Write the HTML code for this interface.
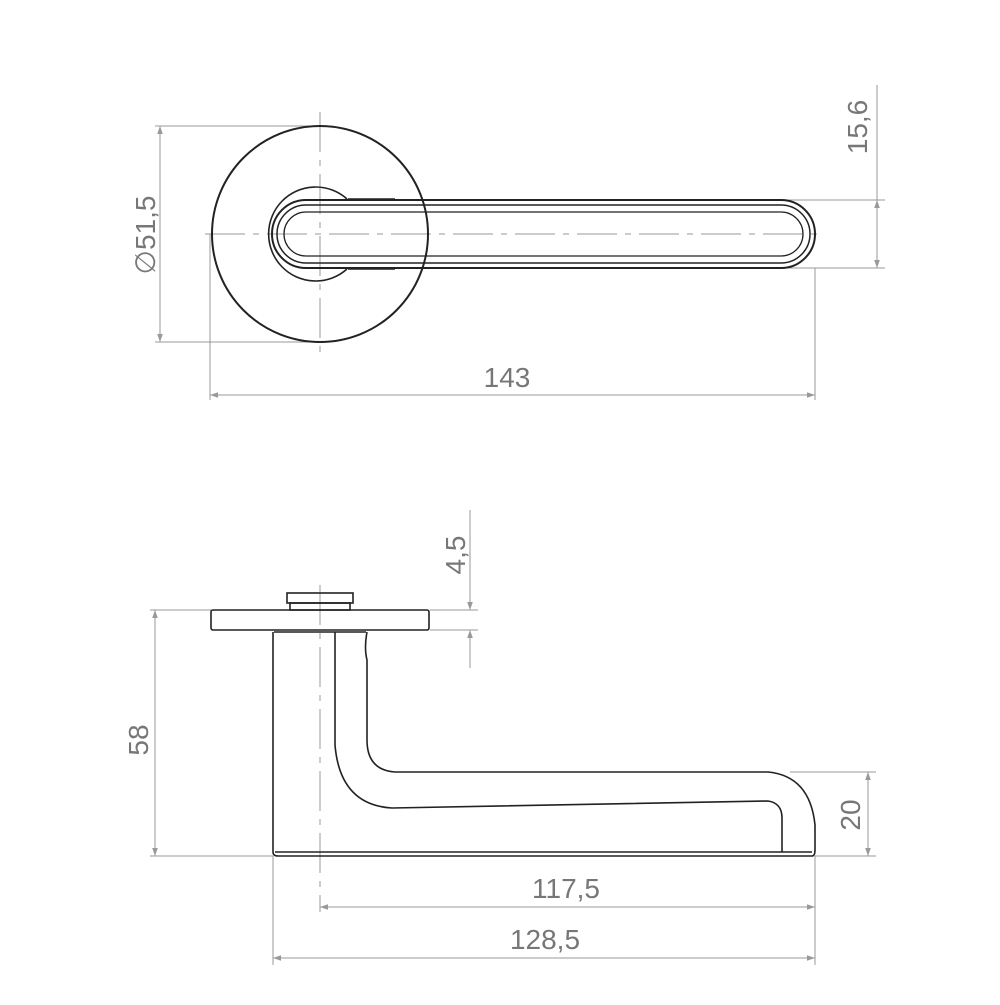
<!DOCTYPE html>
<html><head><style>html,body{margin:0;padding:0;background:#fff}</style></head>
<body>
<svg width="1000" height="1000" xmlns="http://www.w3.org/2000/svg" font-family="Liberation Sans, sans-serif">
<defs>
<marker id="a" viewBox="0 0 10 10" refX="10" refY="5" markerWidth="14" markerHeight="8" markerUnits="userSpaceOnUse" orient="auto-start-reverse"><path d="M0,1.5 L10,5 L0,8.5 Z" fill="#999"/></marker>
</defs>
<g stroke="#999" stroke-width="1" fill="none">
<line x1="155" y1="126" x2="320" y2="126"/><line x1="155" y1="342" x2="320" y2="342"/>
<line x1="160" y1="126" x2="160" y2="342" marker-start="url(#a)" marker-end="url(#a)"/>
<line x1="210" y1="234" x2="210" y2="400"/><line x1="815" y1="268" x2="815" y2="400"/>
<line x1="210" y1="395" x2="815" y2="395" marker-start="url(#a)" marker-end="url(#a)"/>
<line x1="770" y1="200" x2="885" y2="200"/><line x1="770" y1="268" x2="885" y2="268"/>
<line x1="877" y1="85" x2="877" y2="268"/>
<line x1="877" y1="235" x2="877" y2="200" marker-end="url(#a)"/>
<line x1="877" y1="235" x2="877" y2="268" marker-end="url(#a)"/>
<line x1="205" y1="234" x2="820" y2="234" stroke-dasharray="40,8,6,8"/>
<line x1="320" y1="112" x2="320" y2="352" stroke-dasharray="40,8,6,8"/>
<line x1="150" y1="610" x2="290" y2="610"/><line x1="150" y1="856" x2="273" y2="856"/>
<line x1="155" y1="610" x2="155" y2="856" marker-start="url(#a)" marker-end="url(#a)"/>
<line x1="430" y1="610" x2="478" y2="610"/><line x1="430" y1="630" x2="478" y2="630"/>
<line x1="470" y1="510" x2="470" y2="610" marker-end="url(#a)"/>
<line x1="470" y1="668" x2="470" y2="630" marker-end="url(#a)"/>
<line x1="790" y1="772" x2="876" y2="772"/><line x1="815" y1="856" x2="876" y2="856"/>
<line x1="868" y1="772" x2="868" y2="856" marker-start="url(#a)" marker-end="url(#a)"/>
<line x1="815" y1="856" x2="815" y2="965"/>
<line x1="273" y1="856" x2="273" y2="965"/>
<line x1="320" y1="907" x2="815" y2="907" marker-start="url(#a)" marker-end="url(#a)"/>
<line x1="273" y1="958" x2="815" y2="958" marker-start="url(#a)" marker-end="url(#a)"/>
<line x1="320" y1="585" x2="320" y2="912" stroke-dasharray="40,8,6,8"/>
</g>
<g fill="#777" font-size="28">
<text x="507" y="387" text-anchor="middle">143</text>
<text transform="translate(155,235) rotate(-90)" text-anchor="middle">∅51,5</text>
<text transform="translate(867,127) rotate(-90)" text-anchor="middle">15,6</text>
<text transform="translate(465,555) rotate(-90)" text-anchor="middle">4,5</text>
<text transform="translate(148,740) rotate(-90)" text-anchor="middle">58</text>
<text transform="translate(860,815) rotate(-90)" text-anchor="middle">20</text>
<text x="566" y="898" text-anchor="middle">117,5</text>
<text x="545" y="949" text-anchor="middle">128,5</text>
</g>
<g stroke="#222" fill="none" stroke-width="1.6">
<circle cx="320" cy="234" r="108" stroke-width="2"/>
<path d="M347,199 A47,47 0 1 0 347,269"/>
<path d="M348,199 L395,199 M348,269 L395,269"/>
<path d="M306,200 L781,200 A34,34 0 0 1 781,268 L306,268 A34,34 0 0 1 306,200 Z" stroke-width="2"/>
<path d="M306,205 L781,205 A29,29 0 0 1 781,263 L306,263 A29,29 0 0 1 306,205 Z" stroke-width="1.5"/>
<path d="M306,212 L781,212 A22,22 0 0 1 781,256 L306,256 A22,22 0 0 1 306,212 Z" stroke-width="1.3"/>
<rect x="287" y="593" width="66" height="10"/>
<rect x="290" y="603" width="60" height="7"/>
<rect x="211" y="610" width="218" height="20" rx="2"/>
<line x1="274" y1="632" x2="366" y2="632"/>
<path d="M273,632 L273,852 Q273,856 278,856 L812,856 Q815,856 815,850 L815,825 Q810,776 768,772 L395,772 Q367,770 367,740 L367,660 Q364,648 367,632"/>
<line x1="275" y1="852" x2="812" y2="852"/>
<path d="M335,632 L335,745 Q340,805 392,808 L768,801 Q782,803 782,818 L782,852"/>
</g>
</svg>
</body></html>
